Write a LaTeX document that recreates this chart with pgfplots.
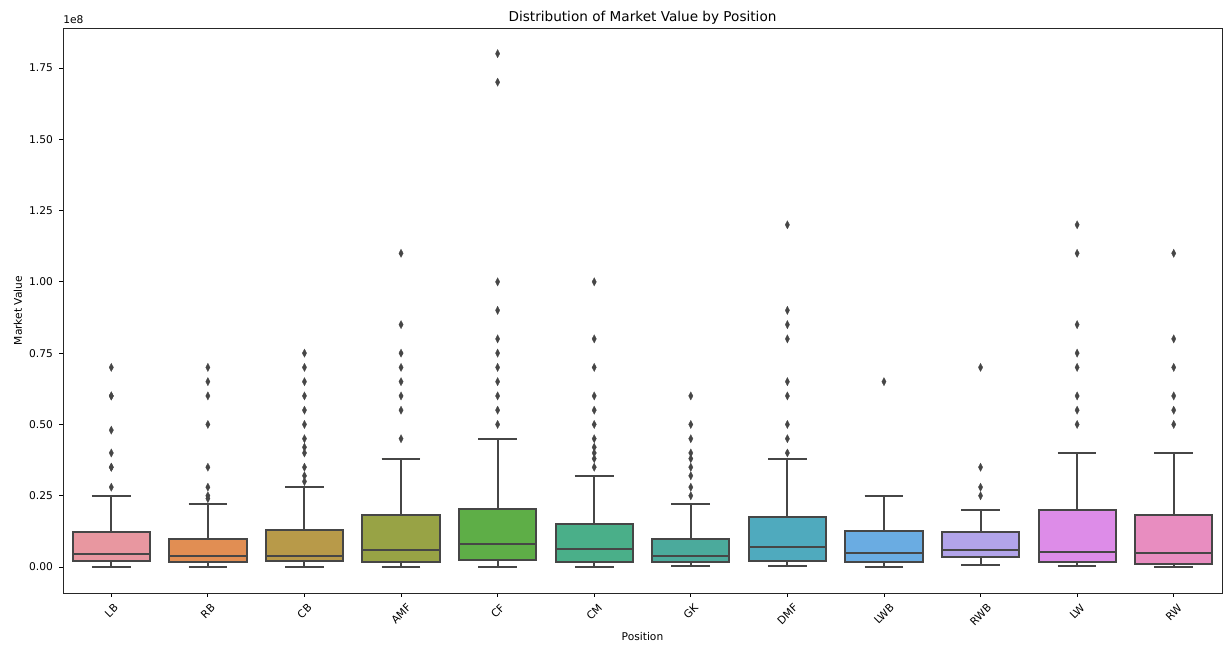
\documentclass[border=0pt]{standalone}
\usepackage{fontspec}
\setmainfont{DejaVu Sans}
\usepackage{graphicx}
\usepackage{pgfplots}
\pgfplotsset{compat=1.18}
\usepgfplotslibrary{statistics}
\definecolor{lg}{RGB}{70,70,70}
\definecolor{cLB}{RGB}{232,151,160}
\definecolor{cRB}{RGB}{225,142,83}
\definecolor{cCB}{RGB}{184,154,73}
\definecolor{cAMF}{RGB}{152,163,69}
\definecolor{cCF}{RGB}{94,174,71}
\definecolor{cCM}{RGB}{74,175,137}
\definecolor{cGK}{RGB}{75,170,156}
\definecolor{cDMF}{RGB}{79,170,190}
\definecolor{cLWB}{RGB}{106,172,226}
\definecolor{cRWB}{RGB}{178,164,234}
\definecolor{cLW}{RGB}{221,140,232}
\definecolor{cRW}{RGB}{232,141,192}
\pgfplotsset{bstyle/.style={draw=lg, line width=1.5pt, mark=diamond*, mark size=3.1pt,
  mark options={fill=lg, draw=lg, line width=0.2pt, xscale=0.7, solid},
  boxplot/draw direction=y,
  boxplot/box extend=0.8, boxplot/whisker extend=0.4}}
\begin{document}
\fontsize{8}{9.6}\selectfont
\begin{tikzpicture}
\useasboundingbox (-47.25pt,-39.75pt) rectangle (870pt,444.75pt);
\begin{axis}[
  scale only axis, width=869.25pt, height=423.75pt,
  anchor=south west, at={(0,0)},
  xmin=-0.5, xmax=11.5, ymin=-0.091, ymax=1.89,
  axis line style={black!85, line width=0.6pt},
  tick align=outside, major tick length=2.9pt,
  xtick pos=lower, ytick pos=left,
  tick style={black, line width=0.6pt},
  xtick={0,...,11},
  xticklabels={\rotatebox{45}{LB},\rotatebox{45}{RB},\rotatebox{45}{CB},\rotatebox{45}{AMF},\rotatebox{45}{CF},\rotatebox{45}{CM},\rotatebox{45}{GK},\rotatebox{45}{DMF},\rotatebox{45}{LWB},\rotatebox{45}{RWB},\rotatebox{45}{LW},\rotatebox{45}{RW}},
  xticklabel style={anchor=north, inner sep=0pt, yshift=-4.5pt, font=\fontsize{8}{9.6}\selectfont},
  ytick={0,0.25,...,1.75},
  yticklabel style={anchor=east, inner sep=0pt, xshift=-4.5pt, font=\fontsize{8}{9.6}\selectfont,
    /pgf/number format/.cd, fixed, fixed zerofill, precision=2, assume math mode=true},
  scaled y ticks=false,
  xlabel={Position}, ylabel={Market Value},
  every axis x label/.style={at={(axis description cs:0.5,0)}, anchor=center, yshift=-33pt, font=\fontsize{8}{9.6}\selectfont},
  every axis y label/.style={at={(axis description cs:0,0.5)}, anchor=center, xshift=-33.75pt, rotate=90, font=\fontsize{8}{9.6}\selectfont},
  title={Distribution of Market Value by Position},
  every axis title/.style={at={(axis description cs:0.5,1)}, anchor=center, yshift=7.5pt, font=\fontsize{10.2}{12}\selectfont},
  clip=false,
]
\addplot[bstyle, fill=cLB, boxplot prepared={draw position=0, lower whisker=0, lower quartile=0.021, median=0.047, upper quartile=0.122, upper whisker=0.25}]
 table[row sep=\\, y index=0] {0.28\\0.35\\0.35\\0.40\\0.48\\0.60\\0.60\\0.70\\};
\addplot[bstyle, fill=cRB, boxplot prepared={draw position=1, lower whisker=0, lower quartile=0.016, median=0.04, upper quartile=0.10, upper whisker=0.22}]
 table[row sep=\\, y index=0] {0.24\\0.25\\0.28\\0.35\\0.50\\0.60\\0.65\\0.70\\};
\addplot[bstyle, fill=cCB, boxplot prepared={draw position=2, lower whisker=0, lower quartile=0.021, median=0.04, upper quartile=0.13, upper whisker=0.28}]
 table[row sep=\\, y index=0] {0.30\\0.32\\0.35\\0.40\\0.42\\0.45\\0.50\\0.55\\0.60\\0.65\\0.70\\0.75\\};
\addplot[bstyle, fill=cAMF, boxplot prepared={draw position=3, lower whisker=0, lower quartile=0.019, median=0.061, upper quartile=0.182, upper whisker=0.38}]
 table[row sep=\\, y index=0] {0.45\\0.55\\0.60\\0.65\\0.70\\0.75\\0.85\\1.10\\};
\addplot[bstyle, fill=cCF, boxplot prepared={draw position=4, lower whisker=0, lower quartile=0.025, median=0.081, upper quartile=0.202, upper whisker=0.45}]
 table[row sep=\\, y index=0] {0.50\\0.55\\0.60\\0.65\\0.70\\0.75\\0.80\\0.90\\1.00\\1.70\\1.80\\};
\addplot[bstyle, fill=cCM, boxplot prepared={draw position=5, lower whisker=0, lower quartile=0.019, median=0.065, upper quartile=0.151, upper whisker=0.32}]
 table[row sep=\\, y index=0] {0.35\\0.38\\0.40\\0.42\\0.45\\0.50\\0.55\\0.60\\0.70\\0.80\\1.00\\};
\addplot[bstyle, fill=cGK, boxplot prepared={draw position=6, lower whisker=0.003, lower quartile=0.016, median=0.04, upper quartile=0.10, upper whisker=0.22}]
 table[row sep=\\, y index=0] {0.25\\0.28\\0.32\\0.35\\0.38\\0.40\\0.45\\0.50\\0.60\\};
\addplot[bstyle, fill=cDMF, boxplot prepared={draw position=7, lower whisker=0.003, lower quartile=0.022, median=0.072, upper quartile=0.174, upper whisker=0.38}]
 table[row sep=\\, y index=0] {0.40\\0.45\\0.50\\0.60\\0.65\\0.80\\0.85\\0.90\\1.20\\};
\addplot[bstyle, fill=cLWB, boxplot prepared={draw position=8, lower whisker=0, lower quartile=0.019, median=0.051, upper quartile=0.127, upper whisker=0.25}]
 table[row sep=\\, y index=0] {0.65\\};
\addplot[bstyle, fill=cRWB, boxplot prepared={draw position=9, lower whisker=0.008, lower quartile=0.034, median=0.061, upper quartile=0.122, upper whisker=0.20}]
 table[row sep=\\, y index=0] {0.25\\0.28\\0.35\\0.70\\};
\addplot[bstyle, fill=cLW, boxplot prepared={draw position=10, lower whisker=0.002, lower quartile=0.0175, median=0.053, upper quartile=0.20, upper whisker=0.40}]
 table[row sep=\\, y index=0] {0.50\\0.55\\0.60\\0.70\\0.75\\0.85\\1.10\\1.20\\};
\addplot[bstyle, fill=cRW, boxplot prepared={draw position=11, lower whisker=0, lower quartile=0.012, median=0.049, upper quartile=0.182, upper whisker=0.40}]
 table[row sep=\\, y index=0] {0.50\\0.55\\0.60\\0.70\\0.80\\1.10\\};
\node[anchor=west, inner sep=0pt, yshift=6pt, font=\fontsize{8}{9.6}\selectfont] at (axis description cs:0,1) {1e8};
\end{axis}
\end{tikzpicture}
\end{document}
